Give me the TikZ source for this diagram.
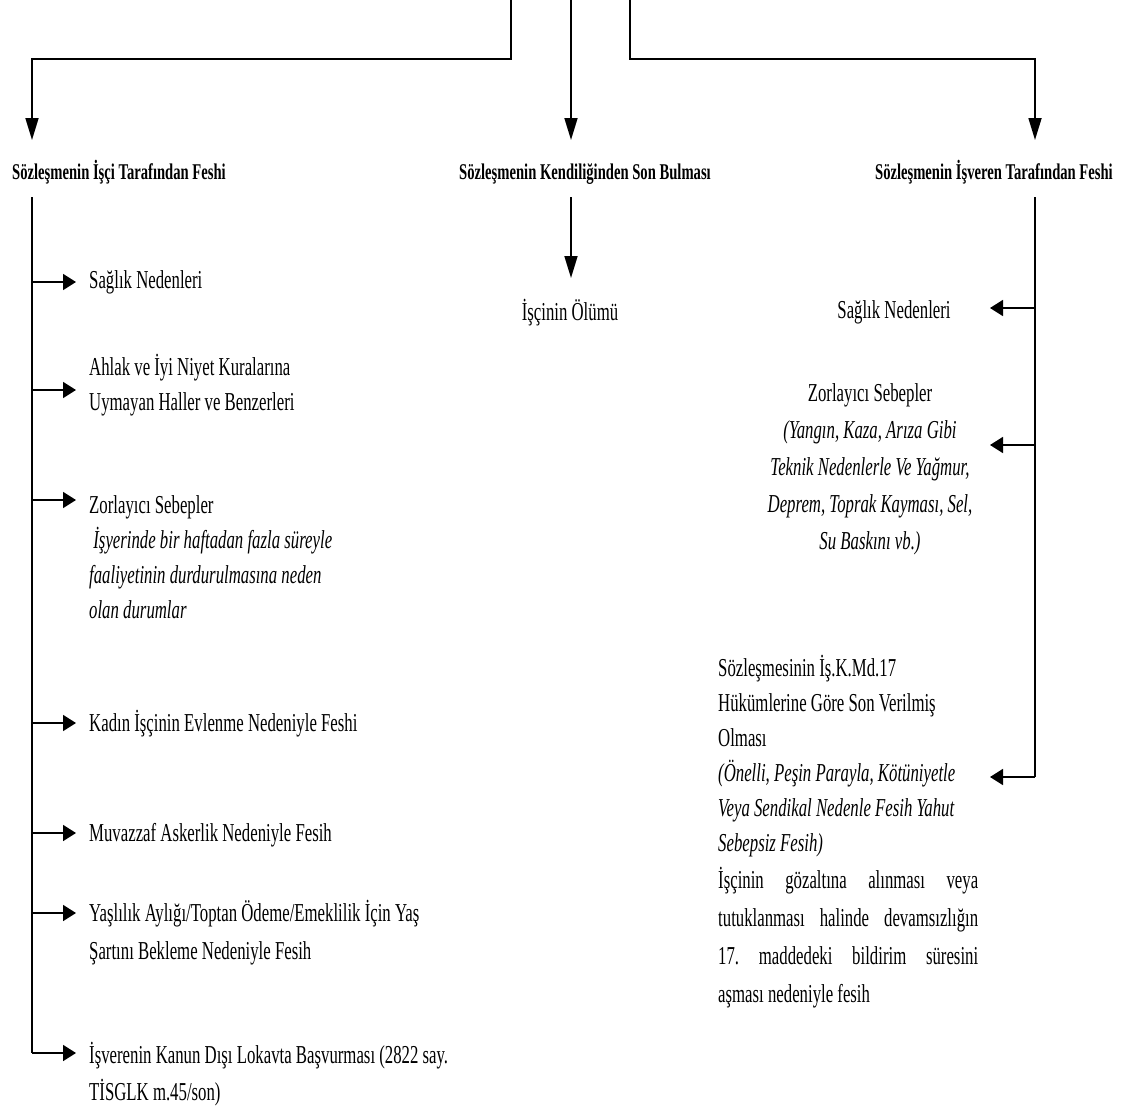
\documentclass[tikz,border=0pt]{standalone}
\usepackage{fontspec}
\setmainfont{Liberation Serif}[FakeStretch=0.65]
\usetikzlibrary{arrows.meta,positioning}
\frenchspacing

\begin{document}
\begin{tikzpicture}[x=1pt, y=-1pt,
  hd/.style={font=\fontsize{22.5}{26}\selectfont\bfseries, inner sep=0pt},
  it/.style={font=\fontsize{25.8}{35}\selectfont, inner sep=0pt, align=left},
  ln/.style={line width=1.7pt},
  darr/.style={ln, -{Triangle[length=22pt,width=13pt]}},
  sarr/.style={ln, -{Triangle[length=13pt,width=16pt]}}
]
  \useasboundingbox (0,0) rectangle (1122,1108);

  % top branches
  \coordinate (inL) at (511,0);
  \coordinate (inM) at (571,0);
  \coordinate (inR) at (630,0);
  \coordinate (tL) at (32,140);
  \coordinate (tM) at (571,140);
  \coordinate (tR) at (1035,140);
  \draw[darr] (inL) -- ++(0,59) -| (tL);
  \draw[darr] (inM) -- (tM);
  \draw[darr] (inR) -- ++(0,59) -| (tR);

  % headers
  \node[hd, anchor=base west] (isci) at (12,179) {Sözleşmenin İşçi Tarafından Feshi};
  \node[hd, anchor=base] (kend) at (585,179) {Sözleşmenin Kendiliğinden Son Bulması};
  \node[hd, anchor=base east] (isv) at (1113,179) {Sözleşmenin İşveren Tarafından Feshi};

  % isci tarafindan
  \node[it, anchor=base west] (s1) at (89,288) {Sağlık Nedenleri};
  \node[it, anchor=north west] (s2) at (89,350.5) {\strut Ahlak ve İyi Niyet Kuralarına\\Uymayan Haller ve Benzerleri};
  \node[it, anchor=north west] (s3) at (89,488.5) {\strut Zorlayıcı Sebepler\\
    \textit{ İşyerinde bir haftadan fazla süreyle}\\\textit{faaliyetinin durdurulmasına neden}\\\textit{olan durumlar}};
  \node[it, anchor=base west] (s4) at (89,731) {Kadın İşçinin Evlenme Nedeniyle Feshi};
  \node[it, anchor=base west] (s5) at (89,841) {Muvazzaf Askerlik Nedeniyle Fesih};
  \node[it, anchor=north west] (s6) at (89,896.5) {\strut Yaşlılık Aylığı/Toptan Ödeme/Emeklilik İçin Yaş\\[3pt]Şartını Bekleme Nedeniyle Fesih};
  \node[it, anchor=north west] (s7) at (89,1038.5) {\strut İşverenin Kanun Dışı Lokavta Başvurması (2822 say.\\[2pt]TİSGLK m.45/son)};

  \coordinate (ls) at (32,197);
  \coordinate (lsEnd) at (32,1053);
  \draw[ln] (ls) -- (lsEnd);
  \coordinate (b1) at (32,282);
  \coordinate (b2) at (32,390);
  \coordinate (b3) at (32,500);
  \coordinate (b4) at (32,723);
  \coordinate (b5) at (32,833);
  \coordinate (b6) at (32,913);
  \draw[sarr, shorten >=13pt] (b1) -- (b1 -| s1.west);
  \draw[sarr, shorten >=13pt] (b2) -- (b2 -| s2.west);
  \draw[sarr, shorten >=13pt] (b3) -- (b3 -| s3.west);
  \draw[sarr, shorten >=13pt] (b4) -- (b4 -| s4.west);
  \draw[sarr, shorten >=13pt] (b5) -- (b5 -| s5.west);
  \draw[sarr, shorten >=13pt] (b6) -- (b6 -| s6.west);
  \draw[sarr, shorten >=13pt] (lsEnd) -- (lsEnd -| s7.west);

  % kendiliginden
  \node[it, anchor=base] (m1) at (570,320) {İşçinin Ölümü};
  \coordinate (ms) at (571,197);
  \coordinate (mt) at (571,278);
  \draw[darr] (ms) -- (mt);

  % isveren tarafindan
  \node[it, anchor=base] (r1) at (894,318) {Sağlık Nedenleri};
  \node[it, anchor=north, align=center, font=\fontsize{25.8}{37}\selectfont] (r2) at (870,375.5)
    {\strut Zorlayıcı Sebepler\\\textit{(Yangın, Kaza, Arıza Gibi}\\\textit{Teknik Nedenlerle Ve Yağmur,}\\
     \textit{Deprem, Toprak Kayması, Sel,}\\\textit{Su Baskını vb.)}};
  \node[it, anchor=north west] (r3) at (718,651.5)
    {\strut Sözleşmesinin İş.K.Md.17\\Hükümlerine Göre Son Verilmiş\\Olması\\
     \textit{(Önelli, Peşin Parayla, Kötüniyetle}\\\textit{Veya Sendikal Nedenle Fesih Yahut}\\\textit{Sebepsiz Fesih)}\\[2pt]
     \makebox[260pt][s]{İşçinin gözaltına alınması veya}\\[3pt]
     \makebox[260pt][s]{tutuklanması halinde devamsızlığın}\\[3pt]
     \makebox[260pt][s]{17. maddedeki bildirim süresini}\\[3pt]
     aşması nedeniyle fesih};

  \coordinate (rs) at (1035,197);
  \coordinate (rsEnd) at (1035,777);
  \draw[ln] (rs) -- (rsEnd);
  \coordinate (c1) at (1035,308);
  \coordinate (c2) at (1035,445);
  \draw[sarr] (c1) -- ++(-45,0);
  \draw[sarr] (c2) -- ++(-45,0);
  \draw[sarr] (rsEnd) -- ++(-45,0);
\end{tikzpicture}
\end{document}
